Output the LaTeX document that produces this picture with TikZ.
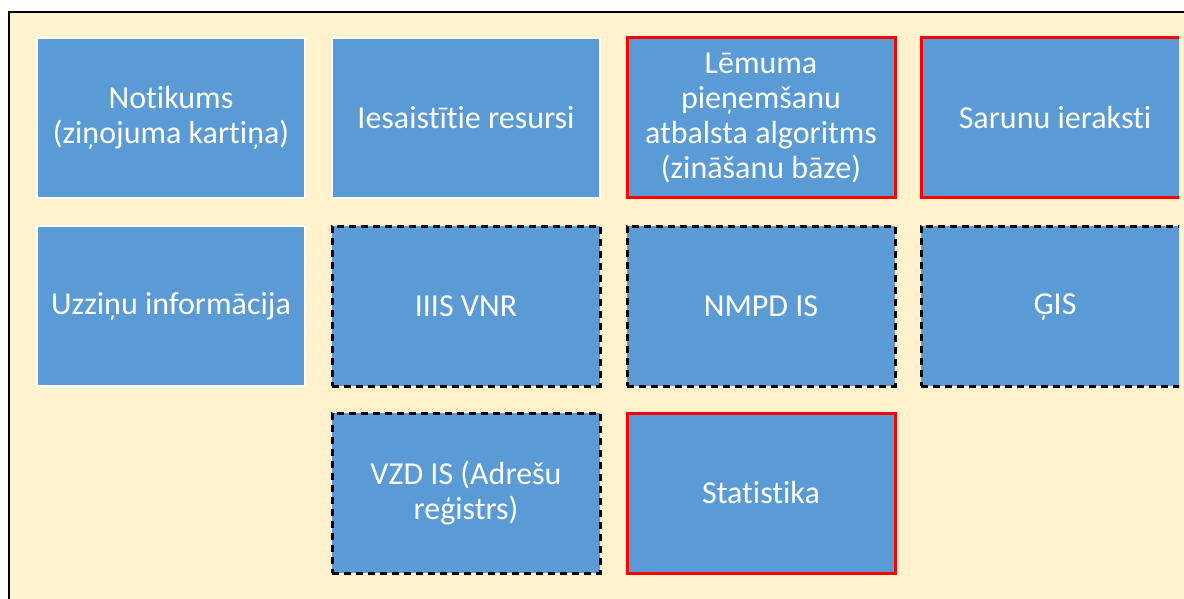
\documentclass[tikz,border=0pt]{standalone}
\usepackage{fontspec}
\setmainfont{Carlito}[Ligatures=NoCommon]
\definecolor{panel}{HTML}{FFF2CC}
\definecolor{boxblue}{HTML}{5B9BD5}
\definecolor{edgered}{HTML}{FF0000}
\tikzset{
  card/.style={rectangle, fill=boxblue, text=white, minimum width=134pt,
    minimum height=80pt, inner sep=0pt, align=center,
    font=\fontsize{16pt}{17.6pt}\selectfont},
  plain/.style={card, draw=white, line width=1pt},
  keybox/.style={card, draw=edgered, line width=1.5pt},
  extbox/.style={card, draw=black, line width=1.5pt,
    dash pattern=on 3.6pt off 2.4pt}
}
\begin{document}
\begin{tikzpicture}[x=0.5pt, y=-0.5pt]
  \useasboundingbox (0,0) rectangle (1184,599);
  \fill[white] (0,0) rectangle (1184,599);
  \clip (0,0) rectangle (1184,599);
  % panel with its frame running off the right and bottom edges
  \filldraw[fill=panel, draw=black, line width=1pt] (9,12) rectangle (1240,660);

  % first row
  \node[plain]  (event)  at (171,118) {Notikums\\(ziņojuma kartiņa)};
  \node[plain]  (res)    at (466,118) {Iesaistītie resursi};
  \node[keybox] (algo)   at (761,118) {Lēmuma\\pieņemšanu\\atbalsta algoritms\\(zināšanu bāze)};
  % second row
  \node[plain]  (ref)    at (171,306) {Uzziņu informācija};
  \node[extbox] (iiis)   at (466,306) {IIIS VNR};
  \node[extbox] (nmpd)   at (761,306) {NMPD IS};
  % third row
  \node[extbox] (vzd)    at (466,493) {VZD IS (Adrešu\\reģistrs)};
  \node[keybox] (stat)   at (761,493) {Statistika};

  % right-hand column, cut off at the panel edge
  \begin{scope}
    \clip (0,0) rectangle (1179,599);
    \node[keybox] (talks) at (1055,118) {Sarunu ieraksti};
    \node[extbox, text height=11pt] (gis) at (1055,306) {ĢIS};
  \end{scope}
\end{tikzpicture}
\end{document}
